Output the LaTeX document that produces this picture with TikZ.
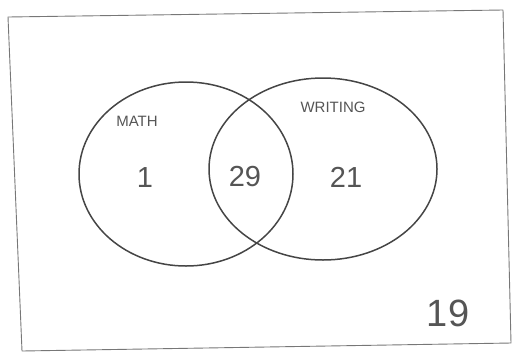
\documentclass[tikz,border=0pt]{standalone}
\usepackage{fontspec}
\usetikzlibrary{shapes.geometric}
\setmainfont{Liberation Sans}
\definecolor{pencil}{HTML}{454545}
\definecolor{lead}{HTML}{555555}
\begin{document}
\begin{tikzpicture}[x=1pt,y=-1pt,
  frame/.style={draw=lead!80, line width=0.9pt, line join=round},
  setring/.style={draw=pencil, line width=1.5pt, shape=ellipse, inner sep=0pt},
  setlabel/.style={text=lead, font=\fontsize{15}{15}\selectfont, inner sep=0pt},
  count/.style={text=lead, font=\fontsize{29}{29}\selectfont, inner sep=0pt}]
\useasboundingbox (0,0) rectangle (529,354);
\coordinate (tl) at (8,17);
\coordinate (tr) at (503,10);
\coordinate (br) at (511,343);
\coordinate (bl) at (22,351);
\draw[frame] (tl) -- (tr) -- (br) -- (bl) -- cycle;
\node[setring, minimum width=214, minimum height=184] (math) at (186,174) {};
\node[setring, minimum width=228, minimum height=182] (writing) at (323,169) {};
\node[setlabel] (mathlbl) at (137,121) {MATH};
\node[setlabel] (writlbl) at (333,107) {WRITING};
\node[count] (only1) at (145,178) {1};
\node[count] (both) at (245,177) {29};
\node[count] (only2) at (346,177) {21};
\node[count, font=\fontsize{38}{38}\selectfont] (none) at (448,313) {19};
\end{tikzpicture}
\end{document}
